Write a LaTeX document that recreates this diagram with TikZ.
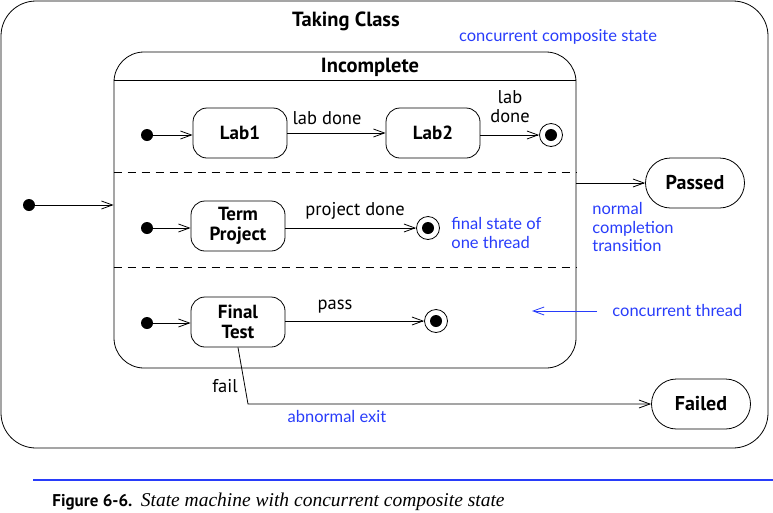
\documentclass[tikz,border=0pt]{standalone}
\usepackage{fontspec}
\setmainfont{PT Sans}
\newfontfamily\notefont{Lato}
\newfontfamily\capserif{Liberation Serif}
\usetikzlibrary{arrows.meta}
\definecolor{noteblue}{RGB}{40,60,250}
\tikzset{
  state/.style={draw, rounded corners=14pt, minimum width=94pt, minimum height=50pt,
    inner sep=0pt, align=center, font=\fontsize{19}{19.5}\selectfont\bfseries},
  endstate/.style={draw, rounded corners=25pt, minimum width=99pt, minimum height=50pt,
    inner sep=0pt, font=\fontsize{20}{18}\selectfont\bfseries},
  initial/.style={circle, fill, minimum size=12pt, inner sep=0pt},
  final/.style={circle, draw, minimum size=23pt, inner sep=0pt,
    path picture={\fill (path picture bounding box.center) circle (6pt);}},
  trans/.style={-{Straight Barb[length=11pt,width=8pt]}},
  lbl/.style={inner sep=0pt, align=center, font=\fontsize{18.5}{19}\selectfont},
  title/.style={inner sep=0pt, font=\fontsize{20.5}{20}\selectfont\bfseries},
  note/.style={inner sep=0pt, align=left, text=noteblue, font=\notefont\fontsize{16.5}{18.5}\selectfont},
}
\begin{document}
\begin{tikzpicture}[x=1pt, y=-1pt, line width=0.8pt]
\useasboundingbox (0,0) rectangle (773,512);
% composite states
\node[draw, rounded corners=35pt, minimum width=767pt, minimum height=447pt] (taking) at (384.5,224.5) {};
\node[title] (takingname) at (346,21) {Taking Class};
\node[note] (compnote) at (558,37) {concurrent composite state};
\node[draw, rounded corners=30pt, minimum width=462pt, minimum height=316pt] (incomplete) at (345,210) {};
\node[title] (incname) at (370,67) {Incomplete};
\coordinate (sep0) at (0,80);
\coordinate (sep1) at (0,172);
\coordinate (sep2) at (0,267);
\draw (incomplete.west |- sep0) -- (incomplete.east |- sep0);
\draw[dashed, dash pattern=on 8pt off 6pt] (incomplete.west |- sep1) -- (incomplete.east |- sep1);
\draw[dashed, dash pattern=on 8pt off 6pt] (incomplete.west |- sep2) -- (incomplete.east |- sep2);
% thread 1
\node[initial] (i1) at (147,135) {};
\node[state] (lab1) at (240,133) {Lab1};
\node[state] (lab2) at (433,133) {Lab2};
\node[final] (f1) at (551,135) {};
\node[lbl] (labdone) at (327,118) {lab done};
\node[lbl] (labdone2) at (510,107) {lab\\done};
% thread 2
\node[initial] (i2) at (147,228) {};
\node[state] (term) at (238,226) {Term\\Project};
\node[final] (f2) at (428,228) {};
\node[lbl] (projdone) at (355,211) {project done};
\node[note, anchor=west] (finalnote) at (451,233) {final state of\\one thread};
% thread 3
\node[initial] (i3) at (147,323) {};
\node[state] (final) at (238,322) {Final\\Test};
\node[final] (f3) at (436,321) {};
\node[lbl] (pass) at (335,307) {pass};
\node[note, anchor=west] (thrnote) at (612,310) {concurrent thread};
\coordinate (thrtail) at (597,311);
\coordinate (thrtip) at (532,311);
% outside
\node[initial] (i0) at (29,205) {};
\node[endstate] (passed) at (695,183) {Passed};
\node[endstate] (failed) at (701,404) {Failed};
\node[note, anchor=west] (normnote) at (592,227) {normal\\completion\\transition};
\node[lbl] (fail) at (225,386) {fail};
\node[note] (abnote) at (337,416) {abnormal exit};
\coordinate (bend) at (248,404);
% transitions
\draw[trans] (i0) -- (i0 -| incomplete.west);
\draw[trans] (i1) -- (i1 -| lab1.west);
\draw[trans] (lab1.east |- lab2) -- (lab2);
\draw[trans] (lab2.east |- f1) -- (f1);
\draw[trans] (i2) -- (i2 -| term.west);
\draw[trans] (term.east |- f2) -- (f2);
\draw[trans] (i3) -- (i3 -| final.west);
\draw[trans] (final.east |- f3) -- (f3);
\draw[trans] (incomplete.east |- passed) -- (passed);
\draw[trans] (final.south) -- (bend) -- (failed);
\draw[trans, noteblue] (thrtail) -- (thrtip);
% caption
\coordinate (capl) at (33,480);
\coordinate (capr) at (773,480);
\draw[noteblue, line width=2pt] (capl) -- (capr);
\node[anchor=base west, inner sep=0pt] (caption) at (52,506)
  {\fontsize{17}{16}\selectfont\textbf{Figure 6-6.}\enspace{\capserif\itshape\fontsize{19.5}{16}\selectfont State machine with concurrent composite state}};
\end{tikzpicture}
\end{document}
